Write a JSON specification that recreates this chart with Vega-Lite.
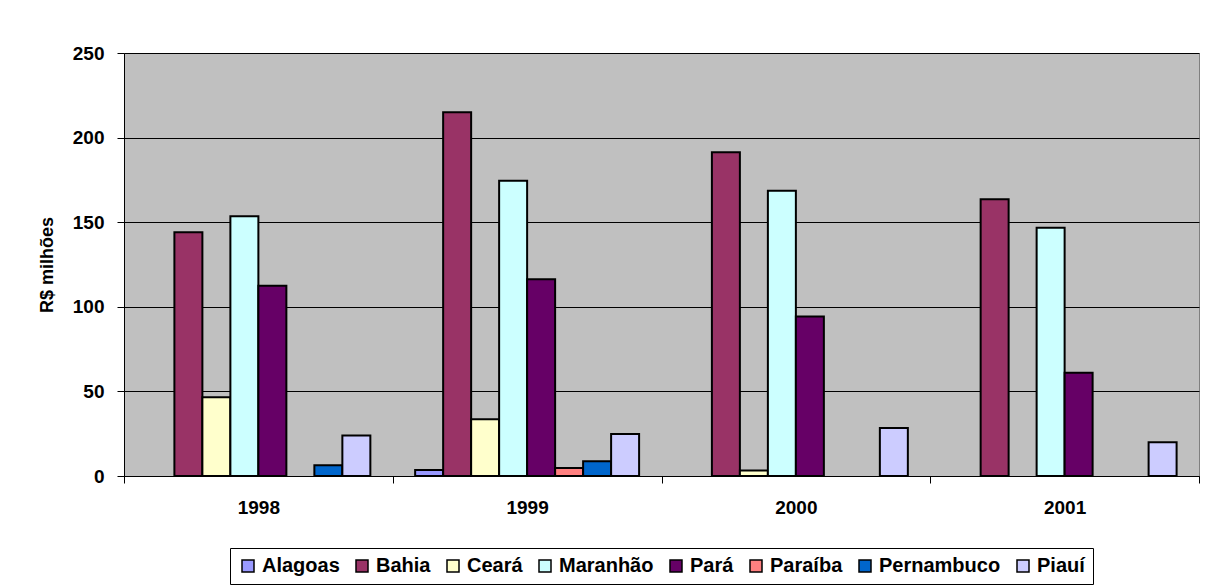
{
  "$schema": "https://vega.github.io/schema/vega-lite/v6.json",
  "width": 1075,
  "height": 423,
  "autosize": {"type": "none"},
  "padding": {"left": 124, "top": 53, "right": 8, "bottom": 109},
  "background": "white",
  "config": {
    "view": {"fill": "#C0C0C0", "stroke": "#808080", "strokeWidth": 1},
    "font": "Liberation Sans"
  },
  "data": {
    "values": [
      {"ano": "1998", "estado": "Bahia", "valor": 144},
      {"ano": "1998", "estado": "Ceará", "valor": 46.5},
      {"ano": "1998", "estado": "Maranhão", "valor": 153.5},
      {"ano": "1998", "estado": "Pará", "valor": 112.5},
      {"ano": "1998", "estado": "Pernambuco", "valor": 6.3},
      {"ano": "1998", "estado": "Piauí", "valor": 24},
      {"ano": "1999", "estado": "Alagoas", "valor": 3.5},
      {"ano": "1999", "estado": "Bahia", "valor": 215},
      {"ano": "1999", "estado": "Ceará", "valor": 33.5},
      {"ano": "1999", "estado": "Maranhão", "valor": 174.5},
      {"ano": "1999", "estado": "Pará", "valor": 116.3},
      {"ano": "1999", "estado": "Paraíba", "valor": 4.7},
      {"ano": "1999", "estado": "Pernambuco", "valor": 8.7},
      {"ano": "1999", "estado": "Piauí", "valor": 24.8},
      {"ano": "2000", "estado": "Bahia", "valor": 191.3},
      {"ano": "2000", "estado": "Ceará", "valor": 3.3},
      {"ano": "2000", "estado": "Maranhão", "valor": 168.6},
      {"ano": "2000", "estado": "Pará", "valor": 94.2},
      {"ano": "2000", "estado": "Piauí", "valor": 28.4},
      {"ano": "2001", "estado": "Bahia", "valor": 163.5},
      {"ano": "2001", "estado": "Maranhão", "valor": 146.7},
      {"ano": "2001", "estado": "Pará", "valor": 61},
      {"ano": "2001", "estado": "Piauí", "valor": 20}
    ]
  },
  "mark": {"type": "bar", "stroke": "black", "strokeWidth": 2},
  "encoding": {
    "x": {
      "field": "ano",
      "type": "nominal",
      "scale": {"paddingInner": 0, "paddingOuter": 0},
      "axis": {
        "title": null,
        "labelAngle": 0,
        "tickBand": "extent",
        "labelFontWeight": "bold",
        "labelFontSize": 19,
        "labelColor": "black",
        "domainColor": "black",
        "domainWidth": 1,
        "tickColor": "black",
        "tickSize": 7,
        "labelPadding": 15,
        "grid": false
      }
    },
    "xOffset": {
      "field": "estado",
      "type": "nominal",
      "scale": {
        "domain": ["Alagoas", "Bahia", "Ceará", "Maranhão", "Pará", "Paraíba", "Pernambuco", "Piauí"],
        "paddingInner": 0,
        "paddingOuter": 0.8
      }
    },
    "y": {
      "field": "valor",
      "type": "quantitative",
      "scale": {"domain": [0, 250]},
      "axis": {
        "title": "R$ milhões",
        "values": [0, 50, 100, 150, 200, 250],
        "titleFontSize": 18,
        "titleFontWeight": "bold",
        "titleColor": "black",
        "titlePadding": 16,
        "labelFontWeight": "bold",
        "labelFontSize": 19,
        "labelColor": "black",
        "labelPadding": 13,
        "domainColor": "black",
        "tickColor": "black",
        "tickSize": 7,
        "grid": true,
        "gridColor": "black",
        "gridWidth": 1
      }
    },
    "color": {
      "field": "estado",
      "type": "nominal",
      "scale": {
        "domain": ["Alagoas", "Bahia", "Ceará", "Maranhão", "Pará", "Paraíba", "Pernambuco", "Piauí"],
        "range": ["#9999FF", "#993366", "#FFFFCC", "#CCFFFF", "#660066", "#FF8080", "#0066CC", "#CCCCFF"]
      },
      "legend": {
        "title": null,
        "orient": "none",
        "legendX": 106,
        "legendY": 495,
        "direction": "horizontal",
        "columns": 8,
        "strokeColor": "black",
        "fillColor": "white",
        "padding": 8,
        "symbolType": "square",
        "symbolSize": 144,
        "symbolStrokeColor": "black",
        "symbolStrokeWidth": 1.5,
        "labelFontSize": 20,
        "labelFontWeight": "bold",
        "labelColor": "black",
        "labelOffset": 4,
        "columnPadding": 12
      }
    }
  }
}
